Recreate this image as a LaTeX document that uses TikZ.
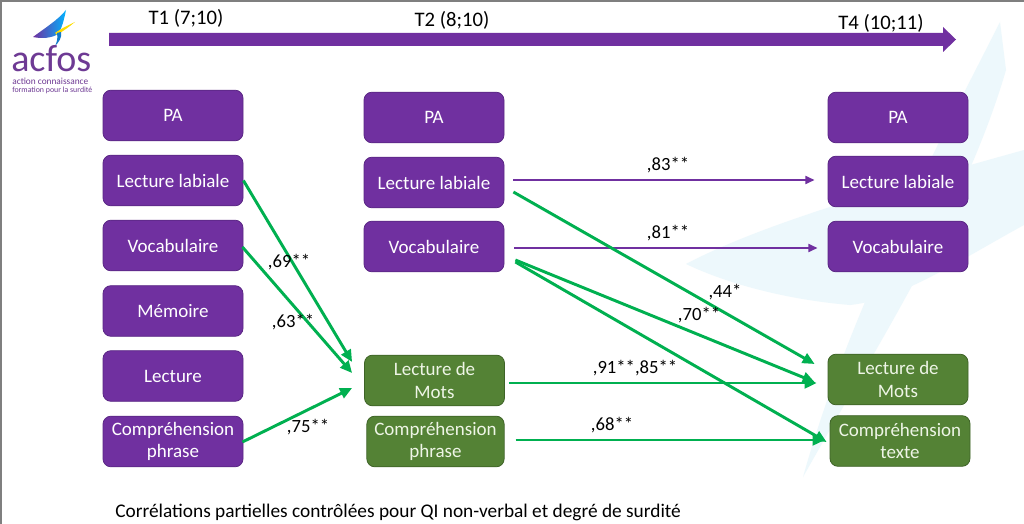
\documentclass[tikz,border=0pt]{standalone}
\usepackage{fontspec}
\setmainfont{Carlito}
\usetikzlibrary{arrows.meta,calc}
\definecolor{purp}{HTML}{7030A0}
\definecolor{purpdark}{HTML}{5A2784}
\definecolor{gbox}{HTML}{548235}
\definecolor{gboxdark}{HTML}{3E6327}
\definecolor{garrow}{HTML}{00B050}
\definecolor{gtext}{HTML}{EEF5E6}
\definecolor{wmark}{HTML}{EDF8FC}
\definecolor{logopurp}{HTML}{6E3A94}
\definecolor{frame}{HTML}{7F7F7F}
\begin{document}
\begin{tikzpicture}[x=0.75pt,y=-0.75pt,
  pbox/.style={rectangle,rounded corners=6pt,fill=purp,draw=purpdark,line width=0.6pt,
    minimum width=105pt,minimum height=38pt,inner sep=0pt,text=white,align=center,
    font=\fontsize{14.25pt}{17pt}\selectfont},
  gboxs/.style={pbox,fill=gbox,draw=gboxdark,text=gtext},
  garr/.style={draw=garrow,line width=2.2pt,-{Triangle[length=9pt,width=8pt]}},
  parr/.style={draw=purp,line width=1.6pt,-{Triangle[length=7pt,width=6pt]}},
  lab/.style={font=\fontsize{14pt}{16pt}\selectfont,inner sep=0pt,text=black},
  tlab/.style={font=\fontsize{15.5pt}{18pt}\selectfont,inner sep=0pt,text=black}]
\useasboundingbox (0,0) rectangle (1024,524);
\fill[white] (0,0) rectangle (1024,524);
% watermark
\fill[wmark] (803,477) .. controls (850,310) and (930,160) .. (1000,22)
  -- (1006,70) .. controls (965,210) and (880,340) .. (803,477) -- cycle;
\fill[wmark] (686,264) .. controls (760,225) and (880,190) .. (1024,150)
  -- (1024,225) .. controls (960,260) and (900,300) .. (850,305)
  .. controls (790,300) and (730,285) .. (686,264) -- cycle;
% frame
\draw[frame,line width=1.5pt] (0,1) -- (1024,1);
\draw[frame,line width=1.5pt] (1,0) -- (1,524);
% logo
\shade[left color=purp,right color=cyan!70!blue] (33,37) .. controls (45,28) and (58,20) .. (66,10)
  .. controls (64,20) and (62,28) .. (58,34) .. controls (52,38) and (42,39) .. (33,37) -- cycle;
\fill[yellow!80!orange] (55,33) .. controls (62,28) and (69,25) .. (75,22)
  .. controls (69,27) and (63,31) .. (57,35) -- cycle;
\fill[cyan!60!blue] (57,33) .. controls (58,38) and (57,42) .. (55,46)
  .. controls (59,42) and (62,38) .. (61,32) -- cycle;
\node[inner sep=0pt,text=logopurp,align=left,anchor=north west,
  font=\fontsize{7pt}{9.75pt}\selectfont] (logo) at (11,45)
  {{\fontsize{28.5pt}{30pt}\selectfont acfos}\\
   \hspace{0.8pt}action connaissance\\[-3.75pt]
   \hspace{0.8pt}{\fontsize{5.9pt}{7pt}\selectfont formation pour la surdité}};
% timeline
\fill[purp] (109,33) -- (943,33) -- (943,27) -- (956,39.5) -- (943,52) -- (943,46) -- (109,46) -- cycle;
\node[tlab] (t1) at (186,18) {T1 (7;10)};
\node[tlab] (t2) at (452,20) {T2 (8;10)};
\node[tlab] (t4) at (881,23) {T4 (10;11)};
% column 1
\node[pbox] (pa1) at (173,115.5) {PA};
\node[pbox] (ll1) at (173,180.5) {Lecture labiale};
\node[pbox] (voc1) at (173,245.5) {Vocabulaire};
\node[pbox] (mem1) at (173,311) {Mémoire};
\node[pbox] (lec1) at (173,376) {Lecture};
\node[pbox] (comp1) at (173,441.5) {Compréhension\\phrase};
% column 2
\node[pbox] (pa2) at (434,117.5) {PA};
\node[pbox] (ll2) at (434,182.5) {Lecture labiale};
\node[pbox] (voc2) at (434,246.5) {Vocabulaire};
\node[gboxs] (ldm2) at (434.5,380.5) {Lecture de\\Mots};
\node[gboxs,minimum width=103pt] (comp2) at (435.5,441.5) {Compréhension\\phrase};
% column 3
\node[pbox] (pa3) at (898,117.5) {PA};
\node[pbox] (ll3) at (898,181.5) {Lecture labiale};
\node[pbox] (voc3) at (898,246.5) {Vocabulaire};
\node[gboxs] (ldm3) at (898,379.5) {Lecture de\\Mots};
\node[gboxs] (ct3) at (900,441) {Compréhension\\texte};
% T1 -> T2
\draw[garr] (ll1.east) -- ($(ldm2.west)+(-12,-18.5)$);
\draw[garr] ($(voc1.east)+(-1,1.5)$) -- ($(ldm2.west)+(-12,-7.5)$);
\draw[garr] ($(comp1.east)+(-1,0.5)$) -- ($(ldm2.west)+(-12,7.5)$);
\node[lab] (l69) at (289,262) {,69**};
\node[lab] (l63) at (293,322) {,63**};
\node[lab] (l75) at (308,427) {,75**};
% T2 -> T4
\draw[parr] ($(ll2.east)+(9,-2.5)$) -- ($(ll3.west)+(-13,-1.5)$);
\draw[parr] ($(voc2.east)+(10,1.5)$) -- ($(voc3.west)+(-10,1.5)$);
\node[lab] (l83) at (668,165) {,83**};
\node[lab] (l81) at (668,233) {,81**};
\draw[garr] ($(ll2.east)+(9,9.5)$) -- ($(ldm3.west)+(-13,-15.5)$);
\draw[garr] ($(voc2.east)+(11,13.5)$) -- ($(ldm3.west)+(-13,2.5)$);
\draw[garr] ($(voc2.east)+(11,15.5)$) -- ($(ct3.west)+(-3,1)$);
\draw[garr] ($(ldm2.east)+(4,2.5)$) -- ($(ldm3.west)+(-11,3.5)$);
\draw[garr] ($(comp2.east)+(11,-1.5)$) -- ($(ct3.west)+(-5,-1)$);
\node[lab] (l44) at (725,292) {,44*};
\node[lab] (l70) at (699,315) {,70**};
\node[lab] (l91) at (635,368) {,91**,85**};
\node[lab] (l68) at (612,425) {,68**};
% caption
\node[inner sep=0pt,font=\fontsize{14.5pt}{16pt}\selectfont,anchor=west] (cap) at (115,512)
  {Corrélations partielles contrôlées pour QI non-verbal et degré de surdité};
\end{tikzpicture}
\end{document}
